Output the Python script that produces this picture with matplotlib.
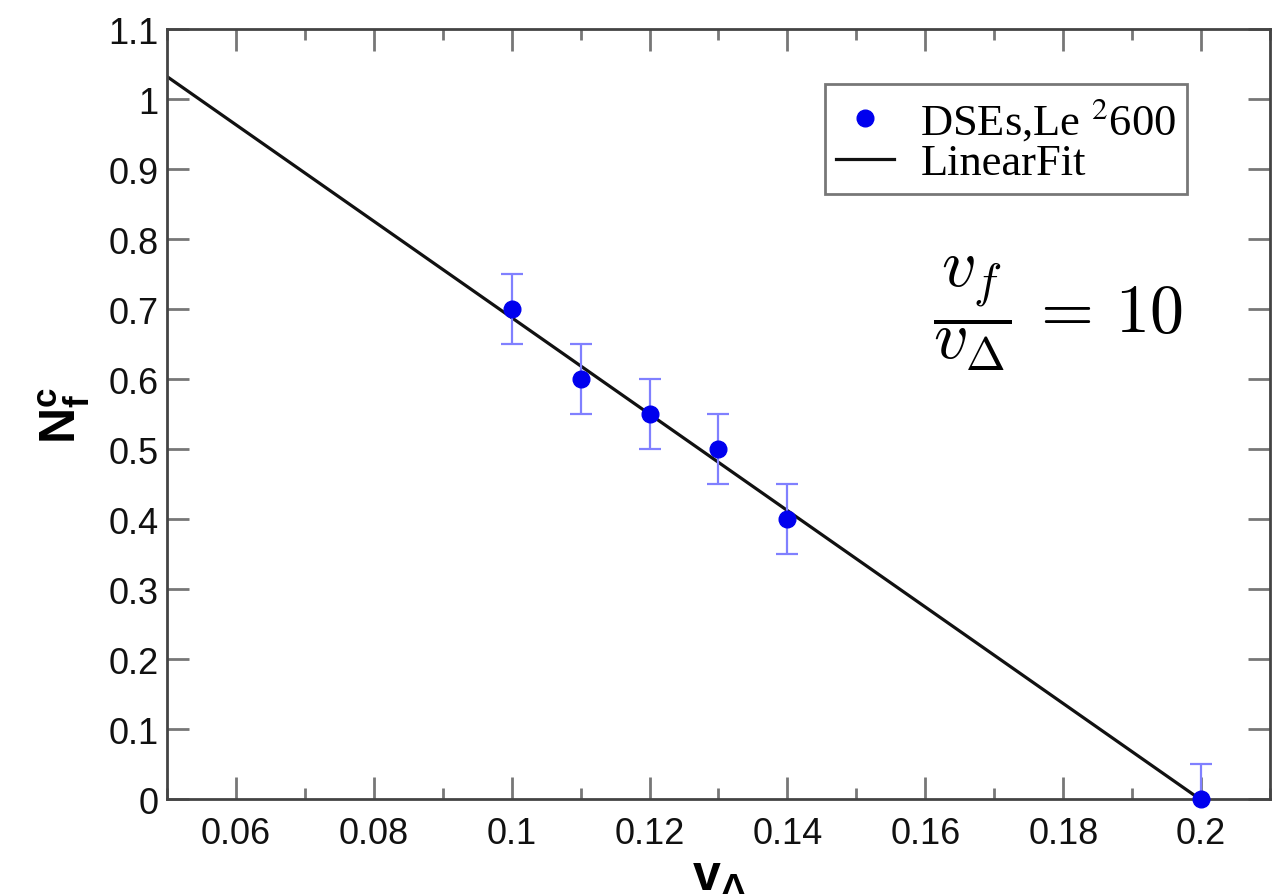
import numpy as np
import matplotlib
matplotlib.use('Agg')
import matplotlib.pyplot as plt
from matplotlib.ticker import MultipleLocator

# dane
v_delta = [0.10, 0.11, 0.12, 0.13, 0.14, 0.20]
nf_c = [0.70, 0.60, 0.55, 0.50, 0.40, 0.00]
blad = [0.05, 0.05, 0.05, 0.05, 0.05, 0.05]

x_ticks = [0.06, 0.08, 0.1, 0.12, 0.14, 0.16, 0.18, 0.2]
x_labels = ['0.06', '0.08', '0.1', '0.12', '0.14', '0.16', '0.18', '0.2']
y_ticks = [0, 0.1, 0.2, 0.3, 0.4, 0.5, 0.6, 0.7, 0.8, 0.9, 1, 1.1]
y_labels = ['0', '0.1', '0.2', '0.3', '0.4', '0.5', '0.6', '0.7', '0.8', '0.9', '1', '1.1']

plt.rcParams['font.family'] = ['Liberation Sans', 'DejaVu Sans']
plt.rcParams['mathtext.fontset'] = 'custom'
plt.rcParams['mathtext.rm'] = 'Liberation Sans'
plt.rcParams['mathtext.it'] = 'Liberation Sans:italic'
plt.rcParams['mathtext.bf'] = 'Liberation Sans:bold'

fig = plt.figure(figsize=(12.83, 8.95), dpi=100)
ax = fig.add_axes([0.130, 0.106, 0.860, 0.860])

# dopasowanie liniowe
a, b = np.polyfit(v_delta, nf_c, 1)
x_fit = np.array([0.05, 0.2])
ax.plot(x_fit, a * x_fit + b, color='#111111', lw=2.3, label='LinearFit', zorder=2)

ax.errorbar(v_delta, nf_c, yerr=blad, fmt='none', ecolor='#8080ff', elinewidth=1.6,
            capsize=8, capthick=1.6, zorder=3)
ax.plot(v_delta, nf_c, 'o', color='#0000ee', ms=12, label=r'DSEs,Le $^2$600',
        clip_on=False, zorder=4)

ax.set_xlim(0.05, 0.21)
ax.set_ylim(0, 1.1)
ax.set_xticks(x_ticks)
ax.set_xticklabels(x_labels)
ax.set_yticks(y_ticks)
ax.set_yticklabels(y_labels)
ax.xaxis.set_minor_locator(MultipleLocator(0.01))

ax.tick_params(which='both', direction='in', top=True, right=True, colors='#777777',
               labelcolor='#111111', labelsize=26)
ax.tick_params(which='major', length=16, width=2)
ax.tick_params(which='minor', length=8, width=2)
ax.tick_params(axis='x', pad=12)
ax.tick_params(axis='y', pad=6)
for s in ax.spines.values():
    s.set_color('#444444')
    s.set_linewidth(2)

ax.set_ylabel(r'$\mathbf{N_f^c}$', fontsize=36, labelpad=12)
ax.set_xlabel(r'$\mathbf{v_\Delta}$', fontsize=36, labelpad=2)

# legenda
handles, labels = ax.get_legend_handles_labels()
leg = ax.legend(handles[::-1], labels[::-1], loc='upper right',
                bbox_to_anchor=(0.925, 0.929), fancybox=False, frameon=True,
                prop={'family': 'Liberation Serif', 'size': 32},
                handlelength=1.3, handletextpad=0.6, labelspacing=0.02,
                borderpad=0.25, borderaxespad=0)
leg.get_frame().set_edgecolor('#555555')
leg.get_frame().set_linewidth(2)
for t in leg.get_texts():
    t.set_math_fontfamily('stix')

fig.text(0.8246, 0.649, r'$\dfrac{v_f}{v_\Delta}\,=\,10$', fontsize=49,
         math_fontfamily='cm', ha='center', va='center')

plt.savefig('out.png', dpi=100)
